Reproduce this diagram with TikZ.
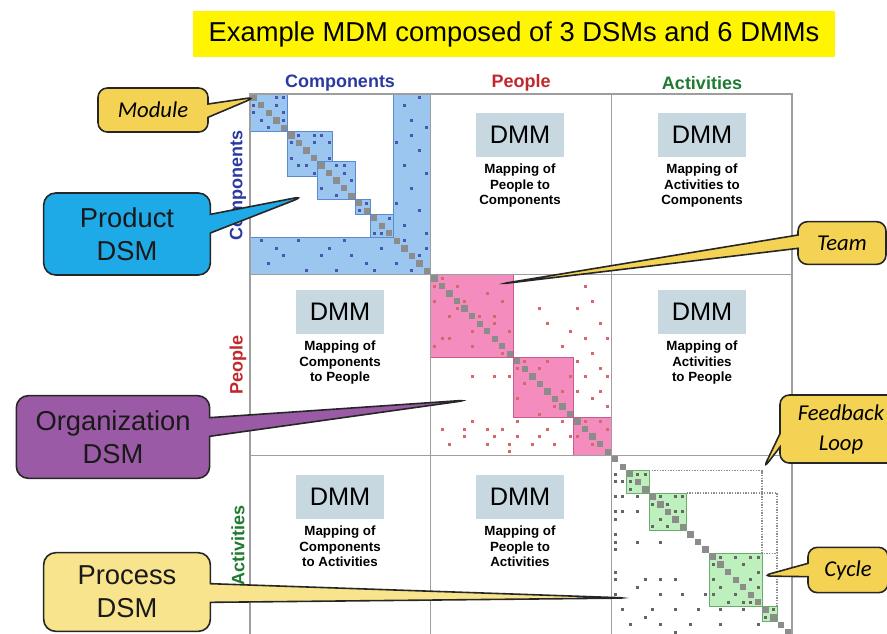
\documentclass[tikz,border=0pt]{standalone}
\usepackage{fontspec}
\setmainfont{Liberation Sans}
\newfontfamily\calibri{Carlito}
\usepackage{tikz}
\usepackage{xcolor}
\usetikzlibrary{positioning,shapes.callouts}

\definecolor{titleyellow}{RGB}{255,245,0}
\definecolor{noteyellow}{RGB}{244,211,84}
\definecolor{paleyellow}{RGB}{248,228,140}
\definecolor{productblue}{RGB}{30,170,230}
\definecolor{orgpurple}{RGB}{155,90,165}
\definecolor{compblue}{RGB}{43,58,160}
\definecolor{peoplered}{RGB}{192,40,45}
\definecolor{actgreen}{RGB}{30,123,48}
\definecolor{dmmgray}{RGB}{200,216,224}
\definecolor{blockblue}{RGB}{155,198,240}
\definecolor{edgeblue}{RGB}{90,140,205}
\definecolor{blockpink}{RGB}{245,140,190}
\definecolor{edgepink}{RGB}{200,90,140}
\definecolor{blockgreen}{RGB}{190,240,190}
\definecolor{edgegreen}{RGB}{110,170,110}

\tikzset{
    note/.style={rectangle callout, draw=black!85, line width=1.2pt, rounded corners=7pt,
        callout pointer width=10pt, align=center, inner sep=0pt},
    bignote/.style={note, rounded corners=9pt, callout pointer width=14pt,
        text=black!90, font=\fontsize{20.5}{25}\selectfont},
    smallnote/.style={note, fill=noteyellow, font=\calibri\itshape\fontsize{17}{22.5}\selectfont},
    hdr/.style={font=\bfseries\fontsize{13.5}{16}\selectfont},
    dmmbox/.style={fill=dmmgray, minimum width=66pt, minimum height=33pt, inner sep=0pt,
        font=\fontsize{19}{19}\selectfont},
    dmmtxt/.style={align=center, inner sep=0pt, font=\bfseries\fontsize{10}{11.6}\selectfont},
    gridline/.style={draw=black!38, line width=1.1pt},
    loopline/.style={draw=black!45, line width=1pt, densely dotted},
    diagsq/.style={fill=black!45},
}

\begin{document}
\begin{tikzpicture}[x=0.75pt,y=-0.75pt]
    \useasboundingbox (0,0) rectangle (887,633);

    % Title
    \node[fill=titleyellow, minimum width=482pt, minimum height=34pt,
        font=\fontsize{20.5}{24}\selectfont] (title) at (514,34)
        {Example MDM composed of 3 DSMs and 6 DMMs};

    % Column and row headings
    \node[hdr, text=compblue] (colcomp) at (340,83) {Components};
    \node[hdr, text=peoplered] (colpeople) at (521,83) {People};
    \node[hdr, text=actgreen] (colact) at (702,83) {Activities};
    \node[hdr, text=compblue, rotate=90] (rowcomp) at (238,185) {Components};
    \node[hdr, text=peoplered, rotate=90] (rowpeople) at (238,365) {People};
    \node[hdr, text=actgreen, rotate=90] (rowact) at (238,545) {Activities};

    % The matrix, one unit per element
    \begin{scope}[shift={(250,94)}, x=5.6475pt, y=-5.6475pt]
        % Product DSM: modules and bus
        \filldraw[fill=blockblue, draw=edgeblue, line width=0.8pt]
            (19,0) -- (24,0) -- (24,24) -- (0,24) -- (0,19) -- (19,19) -- cycle;
        \foreach \a/\b in {0/5, 5/11, 9/14, 14/16, 16/19}
            \filldraw[fill=blockblue, draw=edgeblue, line width=0.8pt] (\a,\a) rectangle (\b,\b);
        \foreach \c/\r in {3/0, 4/0, 0/1, 3/1, 0/2, 4/2, 1/3, 4/3, 2/4,
                6/5, 8/5, 9/5, 5/6, 8/6, 10/6, 5/8, 10/8, 6/9, 7/9, 8/10,
                11/9, 12/9, 13/11, 9/12, 11/13, 12/10, 15/14, 14/15, 18/16, 16/18, 17/18,
                20/1, 22/0, 21/3, 23/4, 21/5, 19/6, 22/7, 20/9, 23/10, 21/12, 19/14,
                22/15, 20/17, 23/18, 1/19, 6/19, 12/19, 3/20, 10/20, 17/20, 4/21, 9/21,
                13/21, 2/22, 15/22, 7/23, 11/23, 16/23, 20/19, 23/20, 22/21, 19/22, 21/23}
            \fill[compblue!85] ({\c+0.3},{\r+0.3}) rectangle +(0.4,0.4);

        % Organization DSM: teams
        \foreach \a/\b in {24/35, 35/43, 43/48}
            \filldraw[fill=blockpink, draw=edgepink, line width=0.8pt] (\a,\a) rectangle (\b,\b);
        \foreach \c/\r in {1/0, 0/1, 3/1, 7/2, 0/3, 4/3, 9/3, 3/4, 2/5, 6/5, 8/5, 8/6, 5/7,
                10/7, 1/8, 2/8, 0/9, 5/9, 9/10, 12/11, 15/11, 11/12, 14/12, 18/13, 12/14,
                17/15, 11/16, 16/17, 14/18, 20/19, 22/19, 23/20, 19/21, 21/22,
                20/1, 21/3, 14/4, 19/4, 15/6, 22/6, 18/7, 20/8, 23/8, 17/9, 21/10, 19/11,
                22/12, 20/13, 23/13, 19/15, 22/15, 21/16, 23/17, 5/13, 8/13, 10/13,
                5/19, 11/19, 17/19, 1/20, 4/20, 7/20, 9/20, 15/20, 4/21, 8/21, 11/21,
                14/21, 18/21, 2/22, 7/22, 10/22, 13/22, 16/22, 10/23}
            \fill[peoplered!70] ({\c+24.3},{\r+24.3}) rectangle +(0.4,0.4);

        % Process DSM: cycles and feedback loops
        \foreach \a/\b in {50/53, 53/58, 61/68, 68/70}
            \filldraw[fill=blockgreen, draw=edgegreen, line width=0.8pt] (\a,\a) rectangle (\b,\b);
        \draw[loopline] (53,50) -- (68,50) -- (68,61) -- (70,61);
        \draw[loopline] (58,53) -- (70,53) -- (70,68);
        \foreach \c/\r in {3/2, 4/2, 2/3, 2/4, 6/5, 8/5, 9/5, 5/6, 7/6, 8/7, 9/7, 6/8, 5/9, 7/9,
                14/13, 16/13, 18/13, 19/13, 13/14, 17/14, 19/15, 13/16, 18/16, 14/17,
                19/17, 13/18, 16/18, 15/19, 17/19, 18/19, 21/20, 20/21,
                0/2, 0/3, 1/3, 0/5, 1/5, 3/5, 0/7, 1/7, 3/7, 0/8, 0/10, 0/11, 3/11, 6/11,
                0/12, 0/15, 0/16, 4/16, 6/16, 8/16, 3/17, 0/18, 6/18, 9/18, 12/18, 1/20,
                5/20, 8/20, 11/20, 14/20, 17/20, 4/21, 2/22, 6/22, 10/22, 14/22, 19/22, 8/23}
            \fill[black!60] ({\c+48.3},{\r+48.3}) rectangle +(0.4,0.4);

        % Diagonal
        \foreach \i in {0,...,71}
            \fill[diagsq] ({\i+0.08},{\i+0.08}) rectangle +(0.84,0.84);

        % Cell borders
        \draw[gridline] (0,72) -- (0,0) -- (72,0) -- (72,72);
        \foreach \k in {24,48} {
            \draw[gridline] (\k,0) -- (\k,72);
            \draw[gridline] (0,\k) -- (72,\k);
        }
    \end{scope}

    % DMMs
    \node[dmmbox] (dmmpc) at (520,135) {DMM};
    \node[dmmtxt, below=5pt of dmmpc] (txtpc) {Mapping of\\People to\\Components};
    \node[dmmbox] (dmmac) at (702,135) {DMM};
    \node[dmmtxt, below=5pt of dmmac] (txtac) {Mapping of\\Activities to\\Components};
    \node[dmmbox] (dmmcp) at (340,312) {DMM};
    \node[dmmtxt, below=5pt of dmmcp] (txtcp) {Mapping of\\Components\\to People};
    \node[dmmbox] (dmmap) at (702,312) {DMM};
    \node[dmmtxt, below=5pt of dmmap] (txtap) {Mapping of\\Activities\\to People};
    \node[dmmbox] (dmmca) at (340,497) {DMM};
    \node[dmmtxt, below=5pt of dmmca] (txtca) {Mapping of\\Components\\to Activities};
    \node[dmmbox] (dmmpa) at (520,497) {DMM};
    \node[dmmtxt, below=5pt of dmmpa] (txtpa) {Mapping of\\People to\\Activities};

    % Callouts
    \coordinate (modtip) at (256,97);
    \coordinate (prodtip) at (305,196);
    \coordinate (orgtip) at (469,400);
    \coordinate (proctip) at (629,598);
    \coordinate (teamtip) at (500,284);
    \coordinate (looptip) at (763,469);
    \coordinate (cycletip) at (762,576);

    \node[smallnote, minimum width=82.5pt, minimum height=33pt,
        callout absolute pointer={(modtip)}] (module) at (153,110) {Module};
    \node[bignote, fill=productblue, minimum width=125pt, minimum height=61.5pt,
        callout absolute pointer={(prodtip)}] (product) at (127,234) {Product\\DSM};
    \node[bignote, fill=orgpurple, minimum width=145pt, minimum height=62pt,
        callout absolute pointer={(orgtip)}] (org) at (113,437) {Organization\\DSM};
    \node[bignote, fill=paleyellow, minimum width=125pt, minimum height=59pt,
        callout absolute pointer={(proctip)}] (process) at (127,592) {Process\\DSM};
    \node[smallnote, minimum width=66pt, minimum height=32pt,
        callout absolute pointer={(teamtip)}] (team) at (842,243) {Team};
    \node[smallnote, minimum width=91.5pt, minimum height=51pt,
        callout absolute pointer={(looptip)}] (feedback) at (841,429) {Feedback\\Loop};
    \node[smallnote, minimum width=60pt, minimum height=34pt,
        callout absolute pointer={(cycletip)}] (cycle) at (848,570) {Cycle};
\end{tikzpicture}
\end{document}
